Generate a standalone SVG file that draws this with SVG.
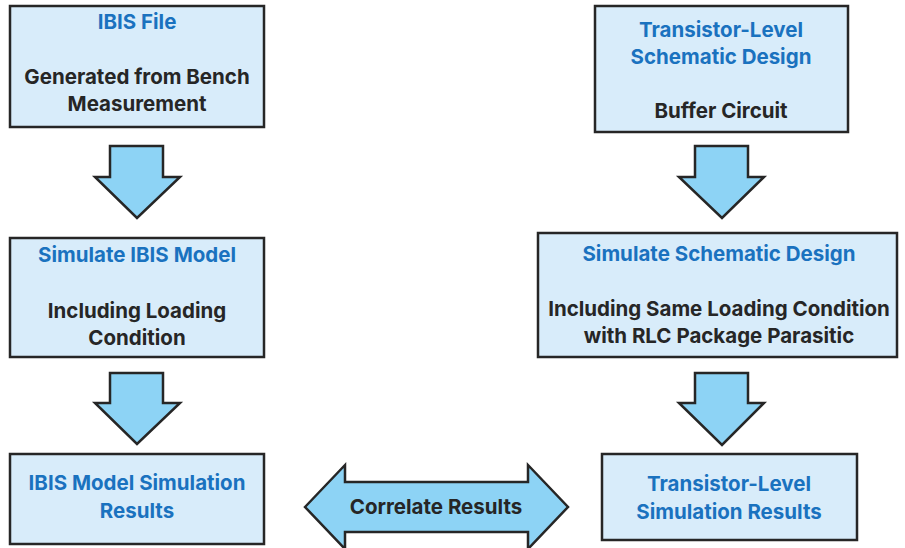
<svg xmlns="http://www.w3.org/2000/svg" width="905" height="548" viewBox="0 0 905 548">
<style>
.box{fill:#d8ecfa;stroke:#262626;stroke-width:2.5}
.arr{fill:#8dd3f5;stroke:#262626;stroke-width:2.5;stroke-linejoin:miter}
text{font-family:Inter,Roboto,"Liberation Sans",sans-serif;font-weight:bold;font-size:20.5px;text-anchor:middle}
.t{fill:#1a72bf}
.d{fill:#262626}
</style>
<rect width="905" height="548" fill="#ffffff"/>
<g id="ibis-file">
<rect class="box" x="10" y="6" width="254" height="121"/>
<text class="t" x="137" y="29">IBIS File</text>
<text class="d" x="137" y="84">Generated from Bench</text>
<text class="d" x="137" y="111">Measurement</text>
</g>
<g id="transistor-schematic">
<rect class="box" x="595" y="6" width="253" height="126"/>
<text class="t" x="721" y="37">Transistor-Level</text>
<text class="t" x="721" y="64">Schematic Design</text>
<text class="d" x="721" y="118">Buffer Circuit</text>
</g>
<g id="simulate-ibis">
<rect class="box" x="10" y="238" width="254" height="119"/>
<text class="t" x="137" y="262">Simulate IBIS Model</text>
<text class="d" x="137" y="318">Including Loading</text>
<text class="d" x="137" y="345">Condition</text>
</g>
<g id="simulate-schematic">
<rect class="box" x="538" y="233" width="359" height="124"/>
<text class="t" x="719" y="261">Simulate Schematic Design</text>
<text class="d" x="719" y="316">Including Same Loading Condition</text>
<text class="d" x="719" y="343">with RLC Package Parasitic</text>
</g>
<g id="ibis-results">
<rect class="box" x="10" y="454" width="254" height="90"/>
<text class="t" x="137" y="490">IBIS Model Simulation</text>
<text class="t" x="137" y="518">Results</text>
</g>
<g id="transistor-results">
<rect class="box" x="602" y="454" width="255" height="86"/>
<text class="t" x="729" y="491">Transistor-Level</text>
<text class="t" x="729" y="519">Simulation Results</text>
</g>
<g id="connectors">
<polygon class="arr" points="110,146 163,146 163,177 180,177 137,218 95,177 110,177"/>
<polygon class="arr" points="110,373 163,373 163,403 180,403 137,444 95,403 110,403"/>
<polygon class="arr" points="695,146 748,146 748,177 764,177 722,218 679,177 695,177"/>
<polygon class="arr" points="695,373 748,373 748,403 764,403 722,445 679,403 695,403"/>
<polygon class="arr" points="305,507 345,465 345,482 528,482 528,465 568,507 528,549 528,532 345,532 345,549"/>
<text class="d" x="436" y="514">Correlate Results</text>
</g>
</svg>
